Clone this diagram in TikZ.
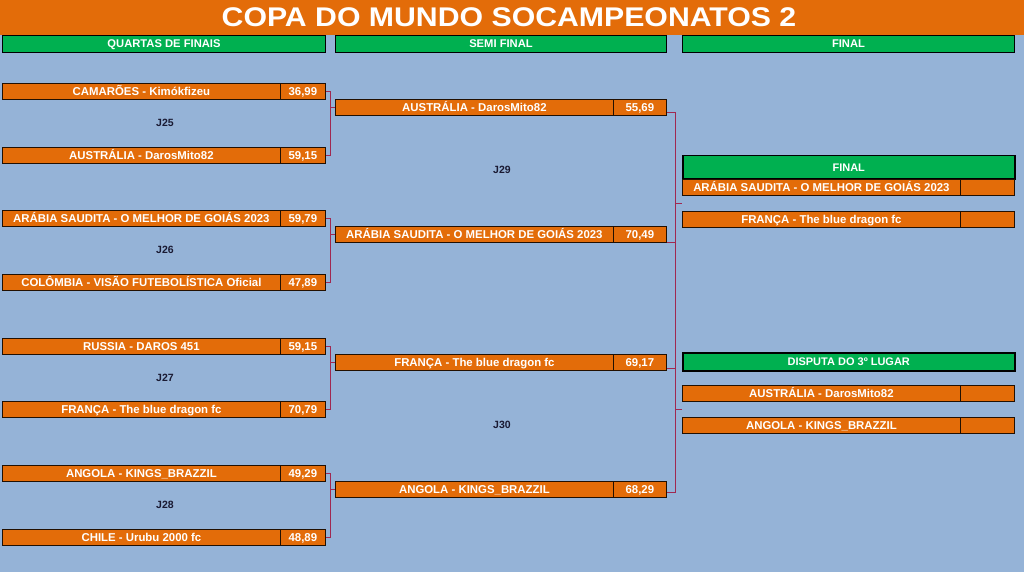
\documentclass[tikz,border=0pt]{standalone}
\usepackage{fontspec}
\usepackage{graphicx}
\setmainfont{Liberation Sans}
\usetikzlibrary{calc}
\definecolor{bg}{HTML}{95B3D7}
\definecolor{org}{HTML}{E36C09}
\definecolor{grn}{HTML}{00B050}
\definecolor{lnk}{HTML}{A02850}
\definecolor{jtxt}{HTML}{1A1A33}
\tikzset{
  cell/.style={draw=black!85!org, fill=org, line width=0.8pt, inner sep=0pt,
    minimum height=16pt, text height=8.2pt, text depth=0pt, text=white, anchor=north west,
    font=\fontsize{11.4}{11.4}\selectfont\bfseries},
  headbar/.style={draw=black, fill=grn, line width=1pt, inner sep=0pt,
    minimum height=17pt, text height=8pt, text depth=0pt, text=white, anchor=north west,
    font=\fontsize{11.2}{11.2}\selectfont\bfseries},
  greenbox/.style={draw=black, fill=grn, line width=1.5pt, inner sep=0pt,
    text height=8pt, text depth=0pt,
    text=white, anchor=north west, font=\fontsize{11}{11}\selectfont\bfseries},
  link/.style={draw=lnk, line width=0.9pt},
  jlab/.style={text=jtxt, font=\fontsize{10.5}{10.5}\selectfont\bfseries}
}
% id, x1, xs, width main, width score, ytop, name, score
\newcommand{\teamrow}[8]{%
  \node[cell, minimum width=#4pt] (#1) at (#2,#6) {#7};
  \node[cell, minimum width=#5pt] (#1s) at (#3,#6) {#8};
}
\begin{document}
\begin{tikzpicture}[x=1pt,y=-1pt]
\fill[bg] (0,0) rectangle (1024,572);
\useasboundingbox (0,0) rectangle (1024,572);
% title
\fill[org] (0,0) rectangle (1024,35);
\node[text=white, font=\fontsize{27}{27}\selectfont\bfseries, text height=19pt, text depth=0pt, inner sep=0pt] (title) at (509,17.5)
  {\scalebox{1.12}[1]{COPA DO MUNDO SOCAMPEONATOS 2}};
% header bars
\node[headbar, minimum width=323pt] (h1) at (2,35) {QUARTAS DE FINAIS};
\node[headbar, minimum width=331pt] (h2) at (335,35) {SEMI FINAL};
\node[headbar, minimum width=332pt] (h3) at (682,35) {FINAL};
% quarter finals
\teamrow{q1}{2}{280}{278}{45}{83}{CAMARÕES - Kimókfizeu}{36,99}
\teamrow{q2}{2}{280}{278}{45}{147}{AUSTRÁLIA - DarosMito82}{59,15}
\teamrow{q3}{2}{280}{278}{45}{210}{ARÁBIA SAUDITA - O MELHOR DE GOIÁS 2023}{59,79}
\teamrow{q4}{2}{280}{278}{45}{274}{COLÔMBIA - VISÃO FUTEBOLÍSTICA Oficial}{47,89}
\teamrow{q5}{2}{280}{278}{45}{338}{RUSSIA - DAROS 451}{59,15}
\teamrow{q6}{2}{280}{278}{45}{401}{FRANÇA - The blue dragon fc}{70,79}
\teamrow{q7}{2}{280}{278}{45}{465}{ANGOLA - KINGS\_BRAZZIL}{49,29}
\teamrow{q8}{2}{280}{278}{45}{529}{CHILE - Urubu 2000 fc}{48,89}
\node[jlab] (j25) at (165,123) {J25};
\node[jlab] (j26) at (165,250) {J26};
\node[jlab] (j27) at (165,378) {J27};
\node[jlab] (j28) at (165,505) {J28};
% semi finals
\teamrow{s1}{335}{613}{278}{53}{99}{AUSTRÁLIA - DarosMito82}{55,69}
\teamrow{s2}{335}{613}{278}{53}{226}{ARÁBIA SAUDITA - O MELHOR DE GOIÁS 2023}{70,49}
\teamrow{s3}{335}{613}{278}{53}{354}{FRANÇA - The blue dragon fc}{69,17}
\teamrow{s4}{335}{613}{278}{53}{481}{ANGOLA - KINGS\_BRAZZIL}{68,29}
\node[jlab] (j29) at (502,170) {J29};
\node[jlab] (j30) at (502,425) {J30};
% final
\node[greenbox, minimum width=332pt, minimum height=23pt] (fh) at (682,155) {FINAL};
\teamrow{f1}{682}{960}{278}{54}{179}{ARÁBIA SAUDITA - O MELHOR DE GOIÁS 2023}{}
\teamrow{f2}{682}{960}{278}{54}{211}{FRANÇA - The blue dragon fc}{}
\node[greenbox, minimum width=332pt, minimum height=18pt] (th) at (682,352) {DISPUTA DO 3º LUGAR};
\teamrow{t1}{682}{960}{278}{54}{385}{AUSTRÁLIA - DarosMito82}{}
\teamrow{t2}{682}{960}{278}{54}{417}{ANGOLA - KINGS\_BRAZZIL}{}
% connectors quarter -> semi
\foreach \a/\b/\s in {q1/q2/s1, q3/q4/s2, q5/q6/s3, q7/q8/s4}{
  \draw[link] (\a s.east) -- ++(5,0) |- (\b s.east);
  \draw[link] (\s.west) -- ++(-5,0);
}
% connectors semi -> final
\coordinate (vx) at (675,0);
\draw[link] ([yshift=-5pt]s1s.east) -- ([yshift=-5pt]s1s.east -| vx)
  -- ([yshift=-3pt]s4s.east -| vx) -- ([yshift=-3pt]s4s.east);
\draw[link] (s2s.south east) -- (s2s.south east -| vx);
\draw[link] ([yshift=-6pt]s3s.east) -- ([yshift=-6pt]s3s.east -| vx);
\coordinate (fm) at ($(f1.south west)!0.5!(f2.north west)$);
\coordinate (tm) at ($(t1.south west)!0.5!(t2.north west)$);
\draw[link] (fm -| vx) -- (fm);
\draw[link] (tm -| vx) -- (tm);
\end{tikzpicture}
\end{document}
